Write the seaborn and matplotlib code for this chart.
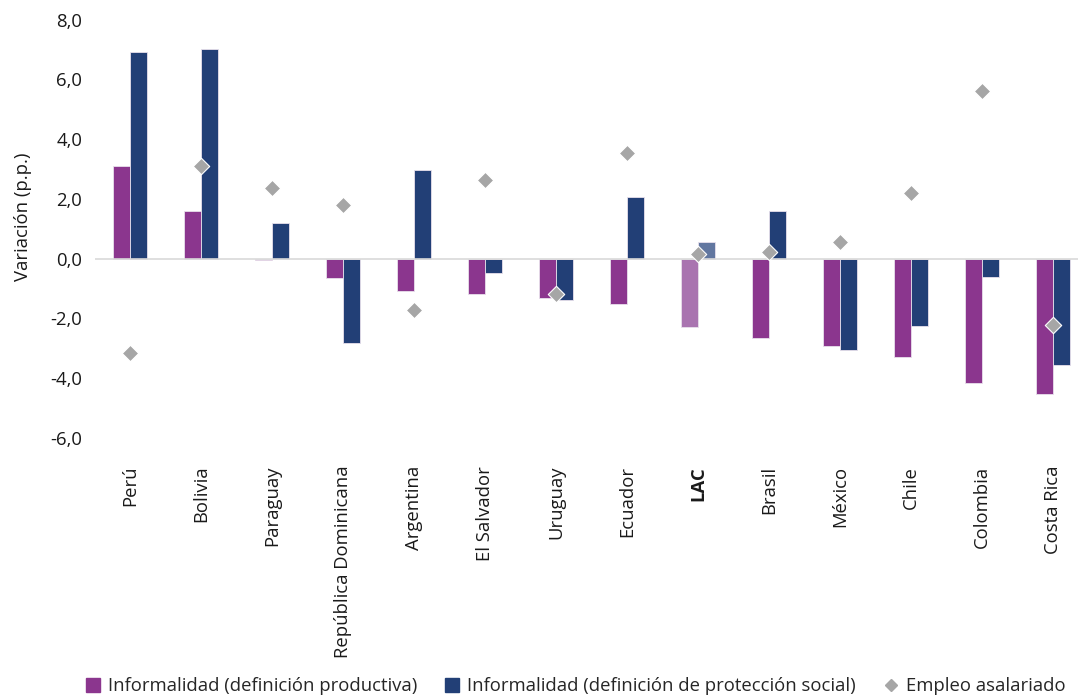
#!/usr/bin/env python3
"""
Variación de la informalidad y del empleo asalariado por país (p.p.)
"""

import pandas as pd
import matplotlib
matplotlib.use('Agg')
import matplotlib.pyplot as plt
from matplotlib.lines import Line2D
from matplotlib.ticker import FuncFormatter
import seaborn as sns

# --- datos ---
paises = ['Perú', 'Bolivia', 'Paraguay', 'República Dominicana', 'Argentina',
          'El Salvador', 'Uruguay', 'Ecuador', 'LAC', 'Brasil', 'México',
          'Chile', 'Colombia', 'Costa Rica']
inf_productiva = [3.1, 1.6, -0.05, -0.66, -1.07, -1.17, -1.33, -1.52,
                  -2.28, -2.64, -2.92, -3.28, -4.17, -4.54]
inf_proteccion = [6.9, 7.03, 1.2, -2.83, 2.97, -0.47, -1.37, 2.06,
                  0.55, 1.61, -3.06, -2.24, -0.61, -3.55]
empleo_asalariado = [-3.17, 3.09, 2.37, 1.81, -1.73, 2.63, -1.18, 3.55,
                     0.14, 0.22, 0.57, 2.18, 5.6, -2.21]

series = ['Informalidad (definición productiva)',
          'Informalidad (definición de protección social)']
colores = ['#8B368E', '#223F76']
colores_lac = ['#A974B0', '#6277A0']
gris = '#A6A6A6'
FS = 13.3

sns.set_style('white')
plt.rcParams['font.family'] = ['Open Sans', 'DejaVu Sans']


def graficar():
    df = pd.DataFrame({
        'pais': paises * 2,
        'serie': [series[0]] * len(paises) + [series[1]] * len(paises),
        'valor': inf_productiva + inf_proteccion,
    })

    fig = plt.figure(figsize=(10.78, 6.97), dpi=100)
    ax = fig.add_axes([0.088, 0.3716, 0.912, 0.6004])

    sns.barplot(data=df, x='pais', y='valor', hue='serie', order=paises,
                hue_order=series, palette=colores, saturation=1, width=0.48,
                dodge=True, edgecolor='#e8e0ec', linewidth=0.6, legend=False,
                ax=ax)

    # LAC en tono más claro
    i_lac = paises.index('LAC')
    for cont, col in zip(ax.containers, colores_lac):
        cont.patches[i_lac].set_facecolor(col)

    sns.scatterplot(x=paises, y=empleo_asalariado, marker='D', s=70,
                    color=gris, edgecolor='white', linewidth=0.8,
                    zorder=5, ax=ax, legend=False)

    ax.axhline(0, color='#d9d9d9', lw=1.2, zorder=1)
    ax.set_ylim(-6, 8)
    ax.set_xlim(-0.5, 13.35)
    ax.set_yticks(range(-6, 9, 2))
    ax.yaxis.set_major_formatter(FuncFormatter(lambda v, p: f'{v:.1f}'.replace('.', ',')))
    ax.set_xlabel('')
    ax.set_ylabel('Variación (p.p.)', fontsize=FS, color='#1a1a1a')
    ax.yaxis.set_label_coords(-0.064, 0.528)
    ax.tick_params(axis='both', length=0, labelsize=FS, colors='#1a1a1a')
    ax.tick_params(axis='y', pad=9)
    ax.tick_params(axis='x', pad=20)
    plt.setp(ax.get_xticklabels(), rotation=90, va='top', ha='center')
    for lbl in ax.get_xticklabels():
        if lbl.get_text() == 'LAC':
            lbl.set_fontweight('bold')
    for s in ax.spines.values():
        s.set_visible(False)

    handles = [
        Line2D([], [], ls='', marker='s', markersize=10, color=colores[0]),
        Line2D([], [], ls='', marker='s', markersize=10, color=colores[1]),
        Line2D([], [], ls='', marker='D', markersize=6, color=gris),
    ]
    fig.legend(handles, series + ['Empleo asalariado'], loc='lower center',
               bbox_to_anchor=(0.533, -0.021), ncol=3, frameon=False,
               fontsize=FS, handletextpad=0.3, columnspacing=1.4,
               handlelength=1.0)

    fig.savefig('out.png', dpi=100)
    plt.close(fig)


if __name__ == '__main__':
    graficar()
